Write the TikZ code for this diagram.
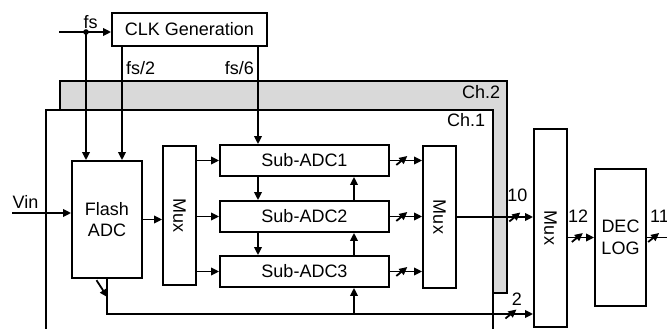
\documentclass[tikz,border=0pt]{standalone}
\usepackage{fontspec}
\setmainfont{Liberation Sans}
\usetikzlibrary{arrows.meta}

\definecolor{chgray}{HTML}{D9D9D9}

\tikzset{
  blk/.style={draw, line width=1.8pt, fill=white, inner sep=0pt},
  conn/.style={line width=1.8pt, -{Triangle[length=8pt,width=7.5pt]}},
  busmark/.style={inner sep=0pt, minimum size=16pt,
    path picture={\draw[line width=1.8pt] ([shift={(-5.5pt,-4.5pt)}]path picture bounding box.center) -- ([shift={(5.5pt,4.5pt)}]path picture bounding box.center);}},
  busmarkv/.style={inner sep=0pt, minimum size=22pt,
    path picture={\draw[line width=1.8pt] ([shift={(-5.5pt,8.5pt)}]path picture bounding box.center) -- ([shift={(5.5pt,-8.5pt)}]path picture bounding box.center);}}
}

\begin{document}
\begin{tikzpicture}[x=1pt, y=-1pt, line width=1.8pt, font=\fontsize{18}{21.5}\selectfont]
\useasboundingbox (0,0) rectangle (667,329);

% channel frames
\draw[fill=chgray] (60,81) rectangle (507,293);
\draw[fill=white] (46,110) rectangle (493,345);
\node[anchor=north east, inner sep=2pt] (ch2) at (503,83) {Ch.2};
\node[anchor=north east, inner sep=2pt] (ch1) at (488,111) {Ch.1};

% blocks
\node[blk, minimum width=155, minimum height=33] (clk) at (189.5,29.5) {CLK Generation};
\node[blk, minimum width=70, minimum height=117, align=center] (flash) at (107,219.5) {Flash\\ADC};
\node[blk, minimum width=33, minimum height=139] (mux1) at (179.5,215.5) {\rotatebox{-90}{Mux}};
\foreach \i/\y in {1/160.5, 2/216.5, 3/271.5}
  \node[blk, minimum width=169, minimum height=31] (sub\i) at (304.5,\y) {Sub-ADC\i};
\node[blk, minimum width=33, minimum height=142] (mux2) at (439.5,217) {\rotatebox{-90}{Mux}};
\node[blk, minimum width=33, minimum height=198] (mux3) at (550.5,228) {\rotatebox{-90}{Mux}};
\node[blk, minimum width=51, minimum height=137, align=center] (dec) at (620.5,237.5) {DEC\\LOG};

% helper points
\coordinate (fsin) at (59,32);
\coordinate (fsdot) at (86,32);
\coordinate (c2) at (122,0);
\coordinate (c6) at (258,0);
\coordinate (cu) at (354,0);
\coordinate (vin) at (12,213);
\coordinate (fb) at (107,314);
\coordinate (dout) at (675,237.5);

% clocks
\draw[conn] (fsin) -- (clk.west |- fsin);
\fill (fsdot) circle (2.8);
\node (fs) at (90.5,22) {fs};
\draw[conn] (fsdot) -- (fsdot |- flash.north);
\draw[conn] (clk.south -| c2) -- node[pos=.19, right] (lfs2) {fs/2} (flash.north -| c2);
\draw[conn] (clk.south -| c6) -- node[pos=.22, left] (lfs6) {fs/6} (sub1.north -| c6);

% signal path
\draw[conn] (vin) -- node[pos=.23, above] (lvin) {Vin} (flash.west |- vin);
\draw[conn] (flash.east) -- (mux1.west |- flash.east);
\foreach \i in {1,2,3} {
  \draw[conn] (mux1.east |- sub\i.west) -- (sub\i.west);
  \draw[conn] (sub\i.east) -- node[busmark, pos=.37] (bs\i) {} (mux2.west |- sub\i.east);
}
\draw[conn] (sub1.south -| c6) -- (sub2.north -| c6);
\draw[conn] (sub2.south -| c6) -- (sub3.north -| c6);
\draw[conn] (sub2.north -| cu) -- (sub1.south -| cu);
\draw[conn] (sub3.north -| cu) -- (sub2.south -| cu);
\draw[conn] (fb -| cu) -- (sub3.south -| cu);

% feedback
\draw[conn] (flash.south) -- node[busmarkv, pos=.28, xshift=-5pt] (bfv) {} (fb)
  -- node[busmark, pos=.948] (bfh) {} node[pos=.962, above=4pt] (l2) {2} (fb -| mux3.west);

% outputs
\draw[conn] (mux2.east) -- node[busmark, pos=.76] (b10) {} node[pos=.795, above=11pt] (l10) {10} (mux3.west |- mux2.east);
\draw[conn] (mux3.east |- dec.west) -- node[busmark, pos=.36] (b12) {} node[pos=.39, above=11pt] (l12) {12} (dec.west);
\draw[conn] (dec.east) -- node[busmark, pos=.24] (b11) {} node[pos=.45, above=11pt] (l11) {11} (dout);

\end{tikzpicture}
\end{document}
